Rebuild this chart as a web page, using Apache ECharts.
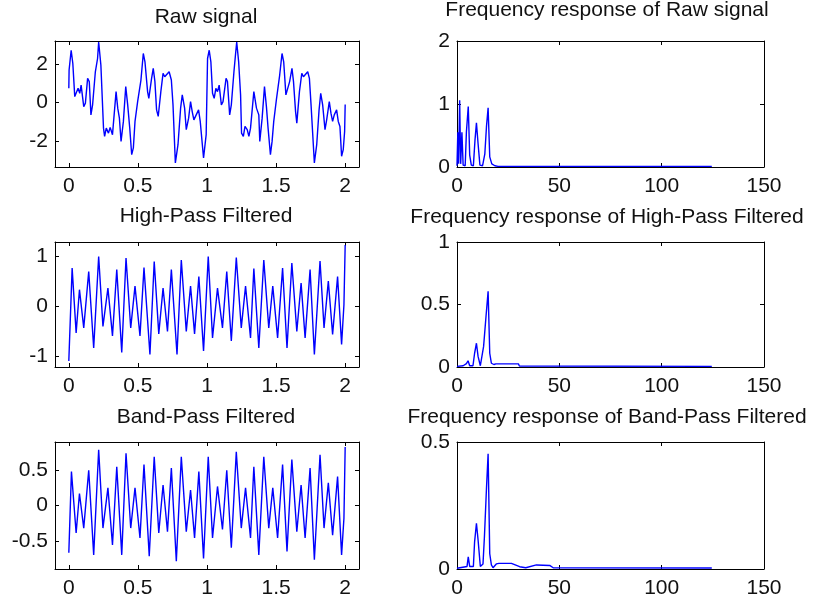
<!DOCTYPE html>
<html>
<head>
<meta charset="utf-8">
<script src="https://cdn.jsdelivr.net/npm/echarts@6/dist/echarts.min.js"></script>
<style>
html, body { margin: 0; padding: 0; background: #fff; }
#chart { width: 819px; height: 596px; }
</style>
</head>
<body>
<div id="chart"></div>
<script>
// panel titles
const titles = [
  'Raw signal', 'Frequency response of Raw signal',
  'High-Pass Filtered', 'Frequency response of High-Pass Filtered',
  'Band-Pass Filtered', 'Frequency response of Band-Pass Filtered'
];

// tick labels
const timeTicks = [0, 0.5, 1, 1.5, 2];
const rawTicks = [-2, 0, 2];
const hpTicks = [-1, 0, 1];
const bpTicks = [-0.5, 0, 0.5];

// raw signal, [time s, value] read at the turning points
const rawSignal = [
  [0, 0.74], [0.002, 1.69], [0.017, 2.72], [0.029, 2.03], [0.043, 0.31], [0.053, 0.22],
  [0.067, 0.74], [0.079, 0.48], [0.089, 0.91], [0.108, -0.21], [0.12, -0.03], [0.136, 1.26],
  [0.148, 1.09], [0.16, -0.64], [0.172, -0.12], [0.192, 1.6], [0.208, 2.29], [0.216, 3.15],
  [0.232, 1.95], [0.251, -1.33], [0.259, -1.76], [0.271, -1.33], [0.287, -1.59], [0.299, -1.29],
  [0.316, -1.67], [0.342, 0.57], [0.354, -0.29], [0.366, -0.81], [0.378, -2.02], [0.395, -0.98],
  [0.412, 0.83], [0.426, -0.12], [0.441, -1.33], [0.455, -2.71], [0.467, -2.36], [0.479, -0.98],
  [0.498, 0.05], [0.522, 1.17], [0.539, 2.55], [0.551, 2.12], [0.57, 0.57], [0.579, 0.22],
  [0.599, 1.26], [0.611, 1.78], [0.623, 1.09], [0.635, -0.38], [0.647, -0.72], [0.666, 0.57],
  [0.682, 1.52], [0.694, 1.34], [0.706, 1.26], [0.726, 1.6], [0.742, 1.17], [0.754, -0.12],
  [0.771, -3.14], [0.781, -3.2], [0.79, -2.19], [0.809, -0.29], [0.821, 0.4], [0.838, -0.29],
  [0.85, -1.41], [0.867, -0.81], [0.881, 0.05], [0.893, -0.47], [0.905, -0.9], [0.922, -0.64],
  [0.939, -0.38], [0.951, -0.98], [0.975, -2.88], [0.994, -1.67],
  [1.004, 2.29], [1.016, 2.72], [1.028, 2.12], [1.04, 0.48], [1.052, 0.22], [1.064, 0.74],
  [1.076, 0.57], [1.088, 0.91], [1.104, -0.12], [1.116, 0.05], [1.138, 1.26], [1.148, 1.09],
  [1.164, -0.64], [1.176, -0.12], [1.195, 1.6], [1.207, 2.55], [1.215, 3.15], [1.229, 2.12],
  [1.243, 0.4], [1.25, -1.59], [1.263, -1.76], [1.275, -1.24], [1.291, -1.41], [1.303, -1.76],
  [1.315, -1.33], [1.339, 0.57], [1.346, 0.48], [1.358, -0.29], [1.375, -0.64], [1.382, -2.02],
  [1.399, -0.81], [1.416, 0.83], [1.43, -0.21], [1.442, -1.33], [1.459, -2.71], [1.471, -2.02],
  [1.483, -0.98], [1.502, 0.14], [1.526, 1.43], [1.543, 2.55], [1.555, 2.12], [1.571, 0.4],
  [1.583, 0.31], [1.598, 1.09], [1.615, 1.78], [1.626, 1.09], [1.641, -0.47], [1.65, -1.07],
  [1.669, 0.57], [1.686, 1.52], [1.698, 1.34], [1.71, 1.26], [1.729, 1.6], [1.741, 1.26],
  [1.753, -0.12], [1.777, -3.14], [1.794, -2.19], [1.811, -0.38], [1.823, 0.48], [1.837, -0.12],
  [1.854, -1.41], [1.866, -0.9], [1.885, 0.05], [1.897, -0.55], [1.909, -0.98], [1.921, -0.64],
  [1.938, -0.38], [1.95, -0.98], [1.962, -1.24], [1.974, -2.79], [1.986, -2.45], [1.996, -1.5],
  [2.0, -0.1]
];

// high-pass filtered signal
const highPass = [
  [0, -1.09], [0.024, 0.76], [0.053, -0.53], [0.077, 0.33], [0.108, -0.43], [0.144, 0.69],
  [0.18, -0.83], [0.216, 0.99], [0.247, -0.4], [0.283, 0.36], [0.316, -0.59], [0.347, 0.73],
  [0.383, -0.92], [0.414, 0.96], [0.448, -0.43], [0.479, 0.4], [0.515, -0.59], [0.544, 0.77],
  [0.587, -0.96], [0.618, 0.89], [0.651, -0.55], [0.682, 0.36], [0.714, -0.5], [0.742, 0.73],
  [0.783, -0.96], [0.814, 0.92], [0.85, -0.5], [0.881, 0.4], [0.91, -0.55], [0.941, 0.59],
  [0.975, -0.89], [1.009, 0.99], [1.04, -0.63], [1.076, 0.36], [1.112, -0.43], [1.143, 0.69],
  [1.176, -0.69], [1.212, 0.97], [1.248, -0.43], [1.279, 0.4], [1.315, -0.63], [1.339, 0.75],
  [1.375, -0.83], [1.411, 0.92], [1.447, -0.43], [1.476, 0.4], [1.511, -0.63], [1.547, 0.76],
  [1.579, -0.83], [1.614, 0.86], [1.65, -0.5], [1.681, 0.46], [1.71, -0.63], [1.746, 0.73],
  [1.777, -0.96], [1.818, 0.9], [1.847, -0.43], [1.878, 0.5], [1.909, -0.56], [1.945, 0.59],
  [1.974, -0.76], [1.991, 0.03], [2.0, 1.22]
];

// band-pass filtered signal
const bandPass = [
  [0, -0.67], [0.019, 0.48], [0.053, -0.39], [0.077, 0.17], [0.108, -0.32], [0.144, 0.5],
  [0.18, -0.7], [0.216, 0.79], [0.247, -0.32], [0.283, 0.25], [0.316, -0.56], [0.347, 0.55],
  [0.383, -0.7], [0.414, 0.74], [0.448, -0.32], [0.479, 0.25], [0.515, -0.46], [0.544, 0.58],
  [0.582, -0.72], [0.618, 0.69], [0.651, -0.39], [0.682, 0.29], [0.714, -0.37], [0.742, 0.53],
  [0.778, -0.79], [0.814, 0.69], [0.85, -0.37], [0.881, 0.22], [0.91, -0.46], [0.941, 0.48],
  [0.975, -0.75], [1.009, 0.69], [1.04, -0.46], [1.076, 0.27], [1.112, -0.34], [1.143, 0.5],
  [1.176, -0.6], [1.212, 0.76], [1.248, -0.32], [1.279, 0.25], [1.315, -0.46], [1.339, 0.55],
  [1.375, -0.7], [1.411, 0.69], [1.447, -0.32], [1.476, 0.25], [1.511, -0.46], [1.547, 0.58],
  [1.579, -0.65], [1.614, 0.65], [1.65, -0.37], [1.681, 0.29], [1.71, -0.46], [1.746, 0.53],
  [1.777, -0.77], [1.818, 0.72], [1.847, -0.32], [1.878, 0.32], [1.909, -0.42], [1.945, 0.41],
  [1.974, -0.7], [1.991, -0.18], [2.0, 0.83]
];

// spectra, [frequency Hz, magnitude]
const rawSpectrum = [
  [0, 0.02], [0.4, 0.55], [0.8, 0.05], [1.3, 1.06], [1.8, 0.05], [2.4, 0.55], [3, 0.03],
  [4, 0.02], [4.6, 0.56], [5.5, 0.96], [6.2, 0.19], [7, 0.03], [8, 0.02], [8.8, 0.43],
  [9.5, 0.7], [10.3, 0.37], [11.2, 0.03], [12.5, 0.02], [13.6, 0.21], [14.4, 0.64],
  [15.2, 0.94], [16, 0.16], [17, 0.05], [18.5, 0.02], [20, 0.01], [124.5, 0.01]
];
const highPassSpectrum = [
  [0, 0.005], [3, 0.01], [4.6, 0.027], [5.4, 0.05], [6.2, 0.01], [7.8, 0.01], [8.6, 0.11],
  [9.5, 0.19], [10.3, 0.085], [11.4, 0.01], [13, 0.165], [14.2, 0.41], [15.2, 0.605],
  [16, 0.11], [16.8, 0.03], [18, 0.02], [19, 0.025], [30, 0.025], [30.5, 0.008], [124.5, 0.005]
];
const bandPassSpectrum = [
  [0, 0.003], [4.9, 0.01], [5.5, 0.048], [6.2, 0.01], [8, 0.01], [8.6, 0.107], [9.5, 0.18],
  [10.3, 0.114], [11.4, 0.01], [12.7, 0.02], [13.4, 0.127], [14.4, 0.317], [15.2, 0.454],
  [16, 0.06], [16.8, 0.016], [17.6, 0.005], [19.2, 0.02], [20.5, 0.022], [26.6, 0.022],
  [30.6, 0.009], [33.6, 0.005], [38.8, 0.016], [45.3, 0.014], [47, 0.005], [124.5, 0.004]
];

const tickFont = "'Liberation Sans', Arial, sans-serif";
const titleFont = "'Liberation Sans', Arial, sans-serif";

// subplot boxes (left column / right column)
const boxes = [
  { left: 55, top: 41, width: 304, height: 126 },
  { left: 457, top: 41, width: 307, height: 126 },
  { left: 55, top: 242, width: 304, height: 125 },
  { left: 457, top: 242, width: 307, height: 125 },
  { left: 55, top: 442, width: 304, height: 127 },
  { left: 457, top: 442, width: 307, height: 127 }
];

// axis ranges for each subplot
const panels = [
  { x: [-0.1, 2.1], xTicks: timeTicks, y: [-3.35, 3.2], yTicks: rawTicks, data: rawSignal },
  { x: [0, 150], xStep: 50, y: [0, 2], yStep: 1, data: rawSpectrum },
  { x: [-0.1, 2.1], xTicks: timeTicks, y: [-1.21, 1.28], yTicks: hpTicks, data: highPass },
  { x: [0, 150], xStep: 50, y: [0, 1], yStep: 0.5, data: highPassSpectrum },
  { x: [-0.1, 2.1], xTicks: timeTicks, y: [-0.9, 0.9], yTicks: bpTicks, data: bandPass },
  { x: [0, 150], xStep: 50, y: [0, 0.5], yStep: 0.5, data: bandPassSpectrum }
];

const titlePos = [
  { left: 206, top: 7 }, { left: 607, top: 0 },
  { left: 206, top: 206 }, { left: 607, top: 207 },
  { left: 206, top: 407 }, { left: 607, top: 407 }
];

const line = { show: true, onZero: false, lineStyle: { color: '#000', width: 1 } };

function makeAxis(p, i, dim, shown) {
  const range = dim === 'x' ? p.x : p.y;
  const ticks = dim === 'x' ? p.xTicks : p.yTicks;
  const step = dim === 'x' ? p.xStep : p.yStep;
  const ax = {
    type: 'value',
    gridIndex: i,
    min: range[0],
    max: range[1],
    axisLine: line,
    splitLine: { show: false },
    axisTick: { show: true, inside: true, length: 4, lineStyle: { color: '#000' } },
    axisLabel: {
      show: shown,
      color: '#111',
      fontFamily: tickFont,
      fontSize: 21,
      margin: dim === 'x' ? 9 : 7,
      showMinLabel: true,
      showMaxLabel: true
    }
  };
  if (ticks) {
    ax.axisLabel.customValues = ticks;
    ax.axisTick.customValues = ticks;
  } else {
    ax.interval = step;
  }
  if (dim === 'x') ax.position = shown ? 'bottom' : 'top';
  else ax.position = shown ? 'left' : 'right';
  return ax;
}

const xAxis = [], yAxis = [], series = [];
panels.forEach((p, i) => {
  xAxis.push(makeAxis(p, i, 'x', true), makeAxis(p, i, 'x', false));
  yAxis.push(makeAxis(p, i, 'y', true), makeAxis(p, i, 'y', false));
  series.push({
    type: 'line',
    xAxisIndex: 2 * i,
    yAxisIndex: 2 * i,
    data: p.data,
    showSymbol: false,
    symbol: 'none',
    lineStyle: { color: '#0000ff', width: 1.4 },
    silent: true
  });
});

const chart = echarts.init(document.getElementById('chart'));
chart.setOption({
  animation: false,
  backgroundColor: '#fff',
  title: titles.map((t, i) => ({
    text: t,
    left: titlePos[i].left,
    top: titlePos[i].top,
    textAlign: 'center',
    padding: 0,
    textStyle: { fontFamily: titleFont, fontSize: 21, fontWeight: 'normal', color: '#111' }
  })),
  grid: boxes.map(b => Object.assign({ containLabel: false, outerBoundsMode: 'none' }, b)),
  xAxis: xAxis,
  yAxis: yAxis,
  series: series
});
</script>
</body>
</html>
